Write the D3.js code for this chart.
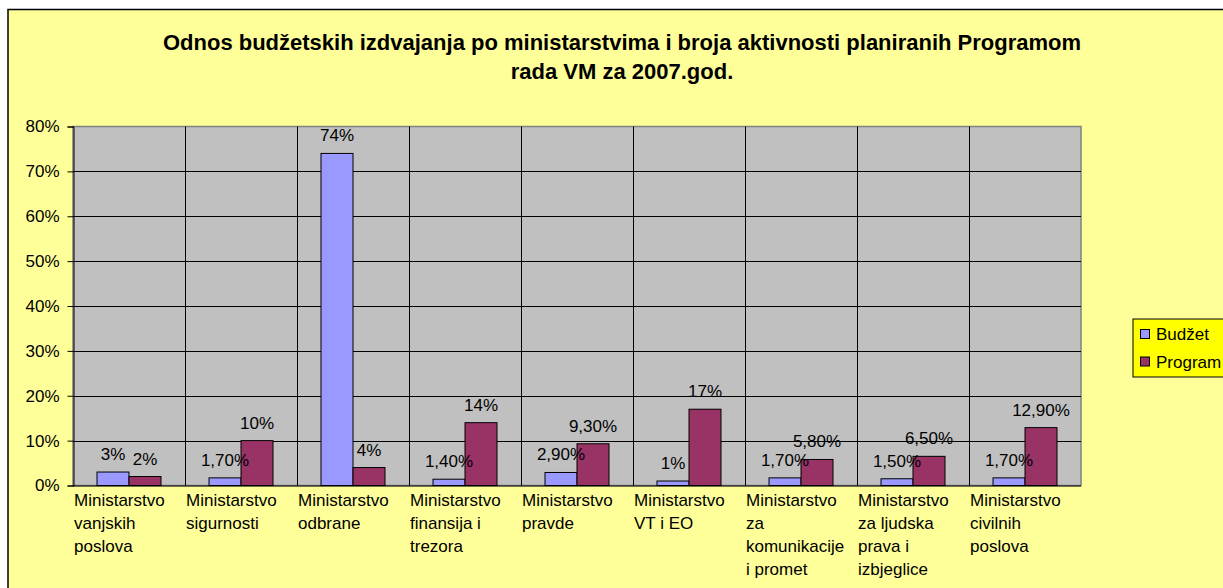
<!DOCTYPE html>
<html>
<head>
<meta charset="utf-8">
<script src="https://cdn.jsdelivr.net/npm/d3@7"></script>
<style>
  html, body { margin: 0; padding: 0; background: #ffffff; }
  svg { display: block; font-family: "Liberation Sans", Arial, sans-serif; }
</style>
</head>
<body>
<svg id="chart" width="1223" height="588"></svg>
<script>
// ---- data ----
const titleLines = [
  "Odnos budžetskih izdvajanja po ministarstvima i broja aktivnosti planiranih Programom",
  "rada VM za 2007.god."
];
const categories = [
  "Ministarstvo\nvanjskih\nposlova",
  "Ministarstvo\nsigurnosti",
  "Ministarstvo\nodbrane",
  "Ministarstvo\nfinansija i\ntrezora",
  "Ministarstvo\npravde",
  "Ministarstvo\nVT i EO",
  "Ministarstvo\nza\nkomunikacije\ni promet",
  "Ministarstvo\nza ljudska\nprava i\nizbjeglice",
  "Ministarstvo\ncivilnih\nposlova"
];
const seriesNames = ["Budžet", "Program"];
const budzet  = [0.03, 0.017, 0.74, 0.014, 0.029, 0.01, 0.017, 0.015, 0.017];
const program = [0.02, 0.10, 0.04, 0.14, 0.093, 0.17, 0.058, 0.065, 0.129];
const budzetLabels  = ["3%", "1,70%", "74%", "1,40%", "2,90%", "1%", "1,70%", "1,50%", "1,70%"];
const programLabels = ["2%", "10%", "4%", "14%", "9,30%", "17%", "5,80%", "6,50%", "12,90%"];
const yTicks = [0, 0.1, 0.2, 0.3, 0.4, 0.5, 0.6, 0.7, 0.8];
const yTickLabels = ["0%", "10%", "20%", "30%", "40%", "50%", "60%", "70%", "80%"];
const colors = ["#9999FF", "#993366"];

// ---- layout ----
const svg = d3.select("#chart");
const plot = { left: 73, right: 1081, top: 126.5, bottom: 485.5 };
const fontSize = 17;

// chart area
svg.append("rect").attr("x", 8).attr("y", 9.5).attr("width", 1240).attr("height", 620)
  .attr("fill", "#FFFF99").attr("stroke", "#000").attr("stroke-width", 1.5);

// title
const title = svg.append("text").attr("text-anchor", "middle")
  .attr("font-weight", "bold").attr("font-size", 22).attr("fill", "#000");
titleLines.forEach((t, i) => {
  title.append("tspan").attr("x", 622).attr("y", 50 + i * 28.5).text(t);
});

// scales
const y = d3.scaleLinear().domain([0, 0.8]).range([plot.bottom, plot.top]);
const x = d3.scaleBand().domain(d3.range(categories.length)).range([plot.left, plot.right]).padding(0);
const xs = d3.scaleBand().domain(d3.range(seriesNames.length)).range([0, x.bandwidth()])
  .paddingInner(0).paddingOuter(0.75);

// plot area
svg.append("rect").attr("x", plot.left).attr("y", plot.top)
  .attr("width", plot.right - plot.left).attr("height", plot.bottom - plot.top)
  .attr("fill", "#C0C0C0").attr("stroke", "#808080").attr("stroke-width", 1.5);

// horizontal gridlines
svg.append("g").selectAll("line").data(yTicks.slice(1, -1)).join("line")
  .attr("x1", plot.left).attr("x2", plot.right)
  .attr("y1", d => Math.round(y(d)) + 0.5).attr("y2", d => Math.round(y(d)) + 0.5)
  .attr("stroke", "#000").attr("stroke-width", 1);

// vertical gridlines at category boundaries
svg.append("g").selectAll("line").data(d3.range(1, categories.length)).join("line")
  .attr("x1", d => Math.round(x(d)) + 0.5).attr("x2", d => Math.round(x(d)) + 0.5)
  .attr("y1", plot.top).attr("y2", plot.bottom)
  .attr("stroke", "#000").attr("stroke-width", 1);

// bars
const series = [budzet, program];
const seriesLabels = [budzetLabels, programLabels];
series.forEach((vals, s) => {
  svg.append("g").selectAll("rect").data(vals).join("rect")
    .attr("x", (d, i) => x(i) + xs(s))
    .attr("y", d => y(d))
    .attr("width", xs.bandwidth())
    .attr("height", d => y(0) - y(d))
    .attr("fill", colors[s]).attr("stroke", "#000").attr("stroke-width", 1);
});

// data labels
series.forEach((vals, s) => {
  svg.append("g").selectAll("text").data(vals).join("text")
    .attr("x", (d, i) => x(i) + xs(s) + xs.bandwidth() / 2)
    .attr("y", d => y(d) - 12)
    .attr("text-anchor", "middle").attr("font-size", fontSize).attr("fill", "#000")
    .text((d, i) => seriesLabels[s][i]);
});

// y axis
const yAxis = d3.axisLeft(y).tickValues(yTicks).tickFormat((d, i) => yTickLabels[i])
  .tickSize(6).tickPadding(8);
const ya = svg.append("g").attr("transform", `translate(${plot.left + 0.5},0)`).call(yAxis);
ya.select(".domain").attr("stroke", "#000");
ya.selectAll(".tick line").attr("stroke", "#000");
ya.selectAll(".tick text").attr("font-size", fontSize).attr("font-family", "Liberation Sans, Arial, sans-serif")
  .attr("fill", "#000");

// x axis line
svg.append("line").attr("x1", plot.left).attr("x2", plot.right)
  .attr("y1", plot.bottom + 0.5).attr("y2", plot.bottom + 0.5)
  .attr("stroke", "#000").attr("stroke-width", 1);

// category labels
const catG = svg.append("g");
categories.forEach((c, i) => {
  const cx = x(i) + x.bandwidth() / 2;
  const t = catG.append("text").attr("font-size", fontSize).attr("fill", "#000");
  c.split("\n").forEach((line, j) => {
    t.append("tspan").attr("x", Math.max(plot.left, cx - 55)).attr("y", plot.bottom + 20.5 + j * 23).text(line);
  });
});

// legend
const lg = svg.append("g");
lg.append("rect").attr("x", 1133).attr("y", 319).attr("width", 120).attr("height", 58)
  .attr("fill", "#FFFF00").attr("stroke", "#000").attr("stroke-width", 1);
seriesNames.forEach((n, i) => {
  const cy = 334 + i * 27.5;
  lg.append("rect").attr("x", 1140.5).attr("y", cy - 4.5).attr("width", 9).attr("height", 9)
    .attr("fill", colors[i]).attr("stroke", "#000").attr("stroke-width", 1);
  lg.append("text").attr("x", 1156).attr("y", cy + 6).attr("font-size", fontSize)
    .attr("fill", "#000").text(n);
});
</script>
</body>
</html>
